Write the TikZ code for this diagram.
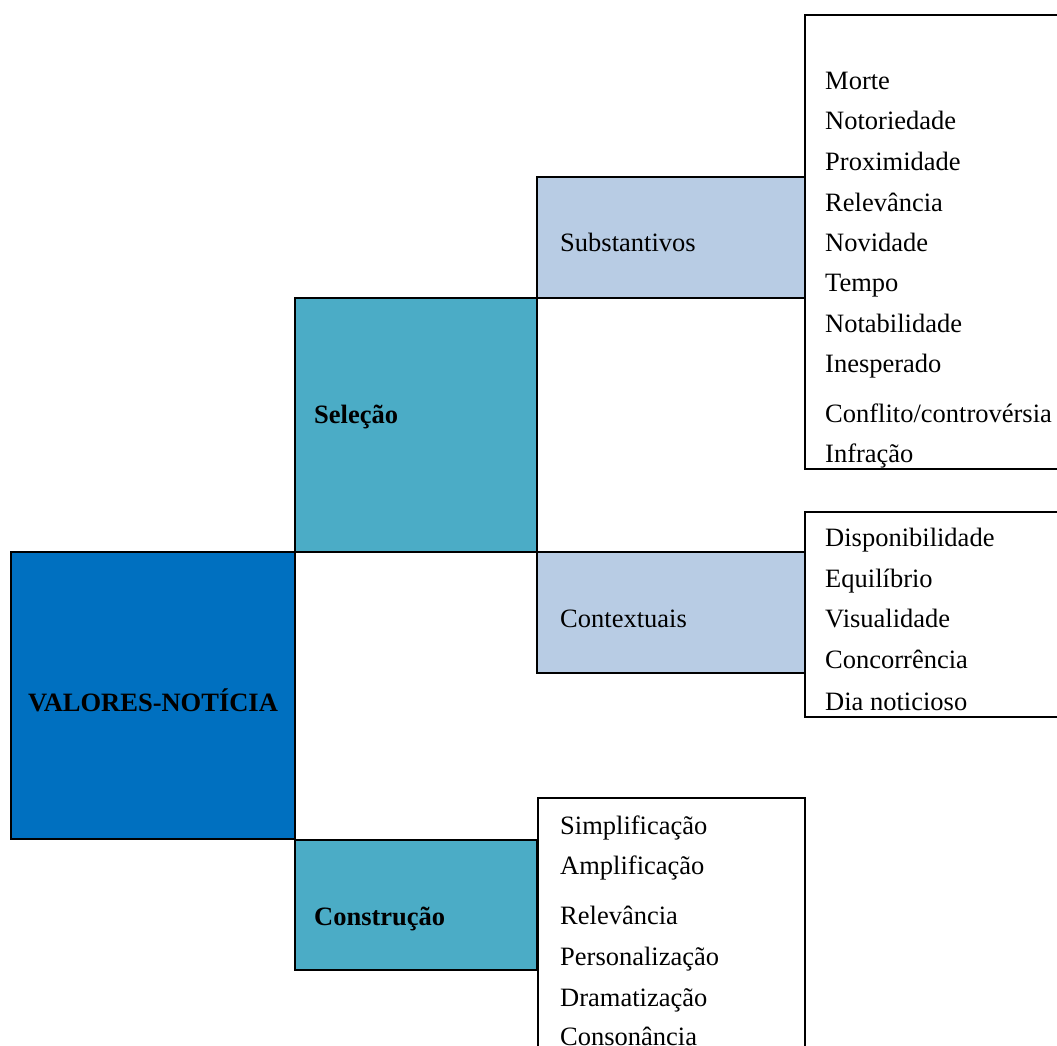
\documentclass[tikz,border=0pt]{standalone}
\usepackage{fontspec}
\setmainfont{Liberation Serif}
\definecolor{cmain}{HTML}{0070C0}
\definecolor{cmid}{HTML}{4BACC6}
\definecolor{clight}{HTML}{B8CCE4}
\begin{document}
\begin{tikzpicture}[x=1pt,y=-1pt,
  box/.style={draw=black, line width=2.5pt, rectangle, anchor=north west, inner sep=0pt, outer sep=0pt},
  item/.style={anchor=base west, inner sep=0pt, font=\fontsize{26.5pt}{30pt}\selectfont},
  head/.style={item, font=\fontsize{26.5pt}{30pt}\selectfont\bfseries}]
\useasboundingbox (0,0) rectangle (1057,1046);
\clip (0,0) rectangle (1057,1046);
% boxes
\node[box, minimum width=300pt, minimum height=454pt] (list1) at (805,15) {};
\node[box, minimum width=300pt, minimum height=205pt] (list2) at (805,512) {};
\node[box, minimum width=267pt, minimum height=300pt] (list3) at (538,798) {};
\node[box, fill=clight, minimum width=268pt, minimum height=121pt] (subst) at (537,177) {};
\node[box, fill=clight, minimum width=268pt, minimum height=121pt] (context) at (537,552) {};
\node[box, fill=cmid, minimum width=242pt, minimum height=254pt] (selecao) at (295,298) {};
\node[box, fill=cmid, minimum width=242pt, minimum height=130pt] (construcao) at (295,840) {};
\node[box, fill=cmain, minimum width=284pt, minimum height=287pt] (main) at (11,552) {};
% headings
\node[head, anchor=base] (tmain) at (153,711) {VALORES-NOTÍCIA};
\node[head] (tsel) at (314,423) {Seleção};
\node[head] (tcons) at (314,925) {Construção};
\node[item] (tsub) at (560,251) {Substantivos};
\node[item] (tctx) at (560,627) {Contextuais};
% list 1
\node[item] (a1) at (825,90) {Morte};
\node[item] (a2) at (825,130) {Notoriedade};
\node[item] (a3) at (825,170) {Proximidade};
\node[item] (a4) at (825,211) {Relevância};
\node[item] (a5) at (825,251) {Novidade};
\node[item] (a6) at (825,291) {Tempo};
\node[item] (a7) at (825,332) {Notabilidade};
\node[item] (a8) at (825,372) {Inesperado};
\node[item] (a9) at (825,422) {Conflito/controvérsia};
\node[item] (a10) at (825,462) {Infração};
% list 2
\node[item] (b1) at (825,546) {Disponibilidade};
\node[item] (b2) at (825,587) {Equilíbrio};
\node[item] (b3) at (825,627) {Visualidade};
\node[item] (b4) at (825,668) {Concorrência};
\node[item] (b5) at (825,710) {Dia noticioso};
% list 3
\node[item] (c1) at (560,834) {Simplificação};
\node[item] (c2) at (560,874) {Amplificação};
\node[item] (c3) at (560,924) {Relevância};
\node[item] (c4) at (560,965) {Personalização};
\node[item] (c5) at (560,1006) {Dramatização};
\node[item] (c6) at (560,1045) {Consonância};
\end{tikzpicture}
\end{document}
